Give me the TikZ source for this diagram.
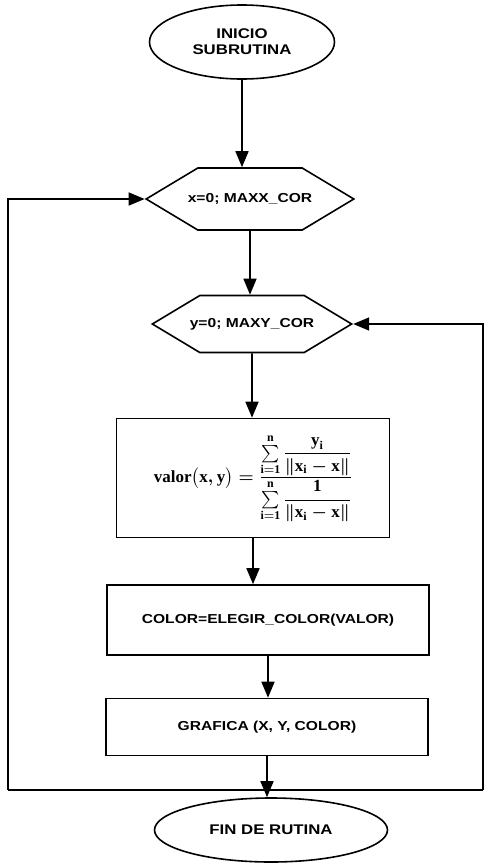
\documentclass[tikz,border=0pt]{standalone}
\usepackage{amsmath,fontspec}
\usetikzlibrary{arrows.meta,positioning,shapes.geometric,shapes.symbols}
\newfontfamily\chartfont{Liberation Sans}[FakeStretch=1.2]
\newfontfamily\formfont{Liberation Serif}
\newcommand{\fb}[1]{\text{\formfont\bfseries #1}}
\newcommand{\valnorm}{\left\lVert\fb{x}_{\fb{i}}-\fb{x}\right\rVert}
\newcommand{\valform}{\mbox{\fontsize{17}{20}\selectfont\boldmath
  $\fb{valor}\bigl(\fb{x},\fb{y}\bigr)=
  \dfrac{\textstyle\sum\limits_{\fb{i}=\fb{1}}^{\fb{n}}\dfrac{\fb{y}_{\fb{i}}}{\valnorm}}%
        {\textstyle\sum\limits_{\fb{i}=\fb{1}}^{\fb{n}}\dfrac{\fb{1}}{\valnorm}}$}}

\begin{document}
\begin{tikzpicture}[x=1pt,y=-1pt,
  term/.style={draw,ellipse,line width=1.6pt,align=center,
               font=\chartfont\bfseries\fontsize{14}{16}\selectfont},
  hexa/.style={draw,shape=signal,signal to=west and east,inner xsep=-10pt,
               signal pointer angle=62,line width=1.6pt,
               font=\chartfont\bfseries\fontsize{13}{15}\selectfont},
  box/.style={draw,rectangle,line width=1.6pt,
              font=\chartfont\bfseries\fontsize{13}{15}\selectfont},
  ar/.style={-{Triangle[length=16pt,width=13pt]},line width=1.6pt}]
\useasboundingbox (0,0) rectangle (485,865);
\node[term,minimum width=185pt,minimum height=74pt] (ini) at (242,42) {INICIO\\SUBRUTINA};
\node[hexa,minimum height=62pt] (hx) at (250,199) {x=0; MAXX\_COR};
\node[hexa,minimum height=57pt] (hy) at (252,324) {y=0; MAXY\_COR};
\node[box,minimum width=273pt,minimum height=119pt] (val) at (253,478) {\valform};
\node[box,minimum width=322pt,minimum height=70pt] (col) at (268,620) {COLOR=ELEGIR\_COLOR(VALOR)};
\node[box,minimum width=322pt,minimum height=57pt] (gra) at (267,727) {GRAFICA (X, Y, COLOR)};
\node[term,minimum width=233pt,minimum height=64pt] (fin) at (271,830) {FIN DE RUTINA};
\coordinate (lb) at (8,790);
\coordinate (rb) at (483,790);
% main flow
\draw[ar] (ini) -- (ini |- hx.north);
\draw[ar] (hx) -- (hx |- hy.north);
\draw[ar] (hy) -- (hy |- val.north);
\draw[ar] (val) -- (val |- col.north);
\draw[ar] (col) -- (col |- gra.north);
\draw[ar] (gra) -- (gra |- fin.north);
% loops back
\draw[line width=1.6pt] (lb) -- (rb);
\draw[ar] (lb) |- (hx.west);
\draw[ar] (rb) |- (hy.east);
\end{tikzpicture}
\end{document}
